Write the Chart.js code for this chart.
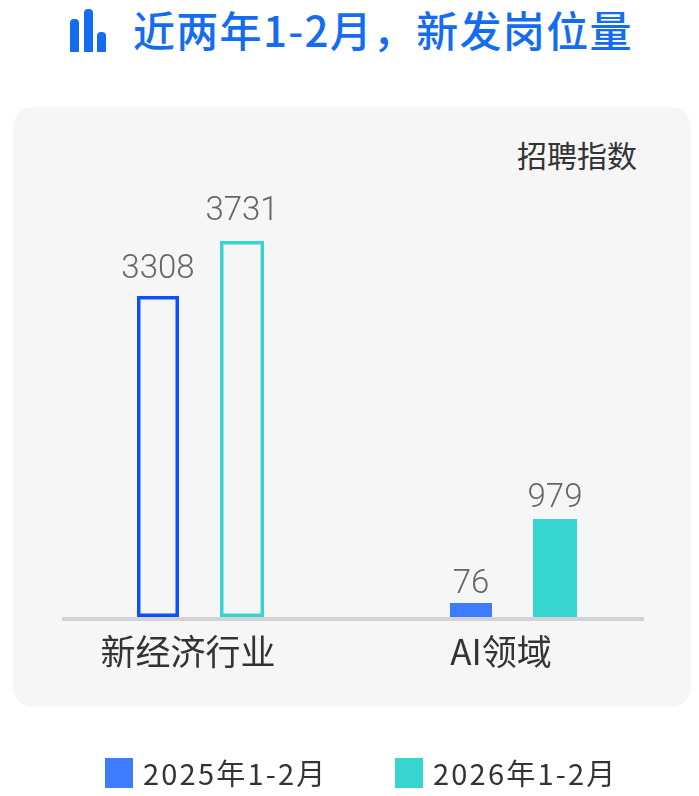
<!DOCTYPE html>
<html lang="zh">
<head>
<meta charset="utf-8">
<title>近两年1-2月，新发岗位量</title>
<script src="https://cdn.jsdelivr.net/npm/chart.js@4"></script>
<style>
  body { margin: 0; background: #fff; }
  #pagina { position: relative; width: 699px; height: 796px; overflow: hidden; font-family: "Noto Sans CJK SC", sans-serif; }
  #cartao { position: absolute; left: 13px; top: 107px; width: 678px; height: 600px; background: #f6f6f6; border-radius: 20px; }
  #icone { position: absolute; left: 70px; top: 9px; width: 36px; height: 43px; }
  #icone i { position: absolute; bottom: 0; width: 9px; background: #146cf0; border-radius: 4px 4px 0 0; }
  #titulo { position: absolute; left: 133px; top: 0; font-size: 42px; line-height: 58px; font-weight: 500; color: #146cf0; white-space: nowrap; letter-spacing: 1.3px; }
  #unidade { position: absolute; right: 62px; top: 133px; font-size: 30px; line-height: 42px; color: #333; }
  #grafico { position: absolute; left: 0; top: 0; }
  #legenda span { position: absolute; top: 751px; font-size: 29px; line-height: 42px; letter-spacing: 2.2px; color: #333; white-space: nowrap; }
  #legenda b { position: absolute; top: 758px; width: 28px; height: 30px; }
</style>
</head>
<body>
<div id="pagina">
  <div id="cartao"></div>
  <div id="icone"><i style="left:0;height:33px"></i><i style="left:14px;height:43px"></i><i style="left:27px;height:20px"></i></div>
  <div id="titulo">近两年1-2月，新发岗位量</div>
  <div id="unidade">招聘指数</div>
  <canvas id="grafico" width="699" height="796"></canvas>
  <div id="legenda"></div>
</div>
<script>
const categorias = ["新经济行业", "AI领域"];
const nomes = ["2025年1-2月", "2026年1-2月"];
// numbers printed above the bars
const valores2025 = [3308, 76];
const valores2026 = [3731, 979];
// bar heights (the reference does not draw to scale)
const alturas2025 = [3210, 140];
const alturas2026 = [3760, 980];

const azul = "#3d7bff";
const azulBorda = "#0a50ff";
const verde = "#36d5d0";

const rotulos = {
  id: "rotulos",
  afterDatasetsDraw(chart) {
    const ctx = chart.ctx;
    const folga = [[18, 10], [21, 12]];
    ctx.save();
    ctx.font = '300 33px Roboto, "Noto Sans CJK SC"';
    ctx.fillStyle = "#666";
    ctx.textAlign = "center";
    ctx.textBaseline = "alphabetic";
    [valores2025, valores2026].forEach((lista, d) => {
      chart.getDatasetMeta(d).data.forEach((barra, i) => {
        ctx.fillText(lista[i], barra.x, barra.y - folga[d][i]);
      });
    });
    ctx.restore();
  },
};

// axis line is shorter than the category band, so it is drawn here
const linhaBase = {
  id: "linhaBase",
  afterDatasetsDraw(chart) {
    const ctx = chart.ctx;
    ctx.save();
    ctx.strokeStyle = "#d3d3d3";
    ctx.lineWidth = 4;
    ctx.beginPath();
    ctx.moveTo(62, chart.chartArea.bottom + 2);
    ctx.lineTo(644, chart.chartArea.bottom + 2);
    ctx.stroke();
    ctx.restore();
  },
};

const grafico = new Chart(document.getElementById("grafico"), {
  type: "bar",
  data: {
    labels: categorias,
    datasets: [
      {
        label: nomes[0],
        data: alturas2025,
        backgroundColor: ["rgba(0,0,0,0)", azul],
        borderColor: [azulBorda, azul],
        borderWidth: [3.5, 0],
        borderSkipped: false,
        barPercentage: 0.5,
        categoryPercentage: 0.537,
      },
      {
        label: nomes[1],
        data: alturas2026,
        backgroundColor: ["rgba(0,0,0,0)", verde],
        borderColor: [verde, verde],
        borderWidth: [3.5, 0],
        borderSkipped: false,
        barPercentage: 0.524,
        categoryPercentage: 0.537,
      },
    ],
  },
  options: {
    responsive: false,
    animation: false,
    layout: { padding: { left: 43.5, right: 29.5, top: 117, bottom: 0 } },
    scales: {
      x: {
        grid: { display: false },
        border: { display: false },
        ticks: {
          font: { family: '"Noto Sans CJK SC"', size: 35 },
          color: "#333",
          padding: 6,
          labelOffset: -12,
          maxRotation: 0,
        },
        afterFit(escala) {
          escala.height = 179;
        },
      },
      y: { display: false, min: 0, max: 5000 },
    },
    plugins: {
      tooltip: { enabled: false },
      legend: { display: false },
    },
  },
  plugins: [rotulos, linhaBase],
});

// legend sits wider apart than the built-in one allows
const legenda = document.getElementById("legenda");
grafico.data.datasets.forEach((d, i) => {
  const caixa = document.createElement("b");
  caixa.style.left = 105 + i * 290 + "px";
  caixa.style.background = i === 0 ? azul : verde;
  const texto = document.createElement("span");
  texto.style.left = 143 + i * 290 + "px";
  texto.textContent = d.label;
  legenda.append(caixa, texto);
});
</script>
</body>
</html>
